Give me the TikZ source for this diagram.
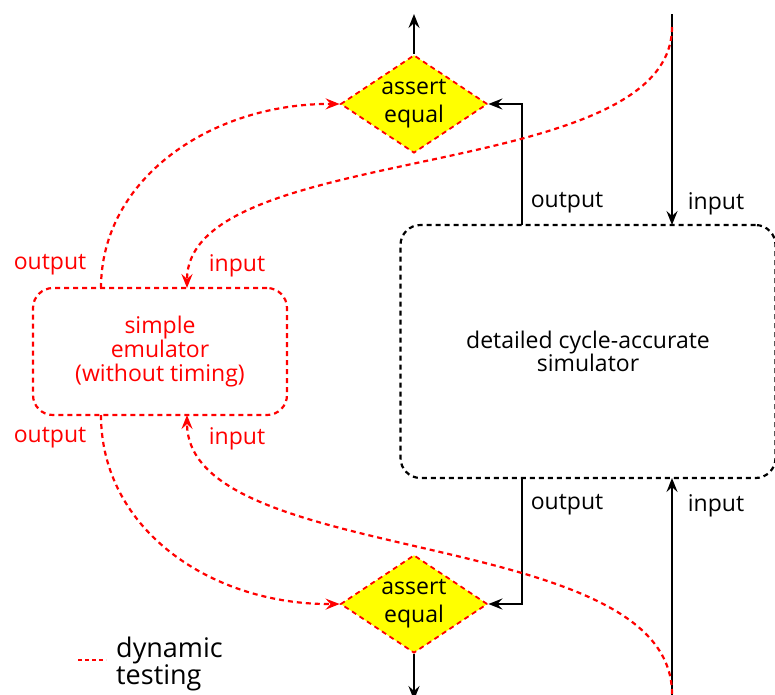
\documentclass[tikz,border=0pt]{standalone}
\usepackage{fontspec}
\setmainfont{Open Sans}
\usetikzlibrary{shapes.geometric,arrows.meta}
\definecolor{rd}{RGB}{255,0,0}
\definecolor{yl}{RGB}{255,255,0}
\tikzset{
  blk/.style={line width=2.2pt,black},
  blkarrow/.style={blk,-{Stealth[length=14pt,width=11pt,inset=5pt]}},
  redline/.style={line width=2.2pt,rd,dash pattern=on 5pt off 4pt},
  redarrow/.style={redline,-{Stealth[length=14pt,width=11pt,inset=5pt,sep=0pt]}},
  asserteq/.style={shape=diamond,draw=rd,line width=1.8pt,dash pattern=on 5pt off 4pt,fill=yl,
    minimum width=147pt,minimum height=98pt,aspect=1.5,inner sep=0pt,align=center,
    font=\fontsize{23}{28}\selectfont},
  simbox/.style={draw=black,line width=2.2pt,dash pattern=on 5pt off 4pt,rounded corners=20pt,
    minimum width=375pt,minimum height=253pt,align=center,font=\fontsize{23}{23}\selectfont},
  emubox/.style={draw=rd,line width=2.2pt,dash pattern=on 5pt off 4pt,rounded corners=20pt,
    minimum width=254pt,minimum height=127pt,align=center,text=rd,font=\fontsize{23}{24}\selectfont},
  lbl/.style={font=\fontsize{23}{23}\selectfont,inner sep=0pt},
  rlbl/.style={lbl,text=rd},
}
\begin{document}
\begin{tikzpicture}[x=1pt,y=-1pt]
\useasboundingbox (0,0) rectangle (775,694);
% nodes
\node[asserteq] (d1) at (414,104) {assert\\equal};
\node[asserteq] (d2) at (414,604) {assert\\equal};
\node[simbox] (sim) at (588,351.5) {detailed cycle-accurate\\simulator};
\node[emubox] (emu) at (160,351.5) {simple\\emulator\\(without timing)};
% coordinates
\coordinate (t1) at (414,14);
\coordinate (b1) at (414,700);
\coordinate (inTop) at (672,14);
\coordinate (inBot) at (672,700);
\coordinate (soTop) at (522,225);
\coordinate (siTop) at (672,225);
\coordinate (soBot) at (522,478);
\coordinate (siBot) at (672,478);
\coordinate (eoTop) at (101,288);
\coordinate (eiTop) at (187,288);
\coordinate (eoBot) at (101,415);
\coordinate (eiBot) at (187,415);
\coordinate (rTop) at (672,27);
\coordinate (rBot) at (672,694);
% black connectors
\draw[blkarrow] (d1.north) -- (t1);
\draw[blkarrow] (d2.south) -- (b1);
\draw[blkarrow] (soTop) |- (d1.east);
\draw[blkarrow] (soBot) |- (d2.east);
\draw[blkarrow] (inTop) -- (siTop);
\draw[blkarrow] (inBot) -- (siBot);
% red dashed connectors
\draw[redarrow] (eoTop) .. controls (101,178) and (212,103) .. (d1.west);
\draw[redarrow] (eoBot) .. controls (101,530) and (212,605) .. (d2.west);
\draw[redarrow] (rTop) .. controls (672,185) and (187,140) .. (eiTop);
\draw[redarrow] (rBot) .. controls (672,524) and (187,569) .. (eiBot);
% labels
\node[lbl] (l1) at (567,203) {output};
\node[lbl] (l2) at (716,204) {input};
\node[lbl] (l3) at (567,505) {output};
\node[lbl] (l4) at (716,506) {input};
\node[rlbl] (l5) at (50,265) {output};
\node[rlbl] (l6) at (237,266) {input};
\node[rlbl] (l7) at (50,438) {output};
\node[rlbl] (l8) at (237,439) {input};
% legend
\coordinate (lgA) at (78,660);
\coordinate (lgB) at (106,660);
\draw[redline,line width=1.6pt,dash pattern=on 4pt off 3pt] (lgA) -- (lgB);
\node[anchor=west,align=left,inner sep=0pt,font=\fontsize{27}{26}\selectfont] (lg) at (116,664) {dynamic\\testing};
\end{tikzpicture}
\end{document}
